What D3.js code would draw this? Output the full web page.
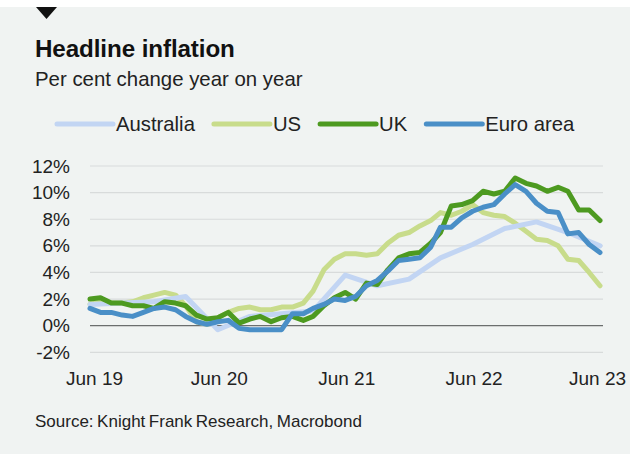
<!DOCTYPE html>
<html><head><meta charset="utf-8">
<script src="https://cdn.jsdelivr.net/npm/d3@7/dist/d3.min.js"></script>
<style>
html,body{margin:0;padding:0;background:#fff;}
svg{display:block;font-family:"Liberation Sans",Arial,sans-serif;}
</style></head>
<body>
<svg id="c" width="630" height="454"></svg>
<script>
// ---- data ----
const monthStart = "2019-06";
const ukValues = [2.0,2.1,1.7,1.7,1.5,1.5,1.3,1.8,1.7,1.5,0.8,0.5,0.6,1.0,0.2,0.5,0.7,0.3,0.6,0.7,0.4,0.7,1.5,2.1,2.5,2.0,3.2,3.1,4.2,5.1,5.4,5.5,6.2,7.0,9.0,9.1,9.4,10.1,9.9,10.1,11.1,10.7,10.5,10.1,10.4,10.1,8.7,8.7,7.9];
const usValues = [1.6,1.8,1.7,1.7,1.8,2.1,2.3,2.5,2.3,1.5,0.3,0.1,0.6,1.0,1.3,1.4,1.2,1.2,1.4,1.4,1.7,2.6,4.2,5.0,5.4,5.4,5.3,5.4,6.2,6.8,7.0,7.5,7.9,8.5,8.3,8.6,9.1,8.5,8.3,8.2,7.7,7.1,6.5,6.4,6.0,5.0,4.9,4.0,3.0];
const euroValues = [1.3,1.0,1.0,0.8,0.7,1.0,1.3,1.4,1.2,0.7,0.3,0.1,0.3,0.4,-0.2,-0.3,-0.3,-0.3,-0.3,0.9,0.9,1.3,1.6,2.0,1.9,2.2,3.0,3.4,4.1,4.9,5.0,5.1,5.9,7.4,7.4,8.1,8.6,8.9,9.1,9.9,10.6,10.1,9.2,8.6,8.5,6.9,7.0,6.1,5.5];
const ausQuarters = ["2019-06","2019-09","2019-12","2020-03","2020-06","2020-09","2020-12","2021-03","2021-06","2021-09","2021-12","2022-03","2022-06","2022-09","2022-12","2023-03","2023-06"];
const ausValues = [1.6,1.7,1.8,2.2,-0.3,0.7,0.9,1.1,3.8,3.0,3.5,5.1,6.1,7.3,7.8,7.0,6.0];
const yTicks = [-2,0,2,4,6,8,10,12];
const xTickDates = ["2019-06","2020-06","2021-06","2022-06","2023-06"];
const xTickLabels = ["Jun 19","Jun 20","Jun 21","Jun 22","Jun 23"];
const seriesNames = ["Australia","US","UK","Euro area"];
const seriesColors = ["#c2d5f3","#c8dc8b","#4d9a20","#4a8fc7"];

// ---- build ----
const parse = d3.timeParse("%Y-%m");
const t0 = parse(monthStart);
const monthly = vals => vals.map((v,i)=>({date:d3.timeMonth.offset(t0,i), v}));
const series = [
  {name:"US", color:seriesColors[1], data:monthly(usValues)},
  {name:"Australia", color:seriesColors[0], data:ausQuarters.map((d,i)=>({date:parse(d), v:ausValues[i]}))},
  {name:"UK", color:seriesColors[2], data:monthly(ukValues)},
  {name:"Euro area", color:seriesColors[3], data:monthly(euroValues)}
];

const svg = d3.select("#c");
svg.append("rect").attr("x",0).attr("y",7).attr("width",630).attr("height",447).attr("fill","#f0f3f2");
svg.append("path").attr("d","M36,7 L57,7 L46.5,19 Z").attr("fill","#111");

svg.append("text").attr("x",35).attr("y",57).attr("font-size",24.2).attr("font-weight","bold")
  .attr("fill","#111").attr("letter-spacing",-0.1).text("Headline inflation");
svg.append("text").attr("x",35).attr("y",86).attr("font-size",20.4).attr("fill","#222").text("Per cent change year on year");

// legend
const legendOrder = [0,1,2,3];
let lx = 57;
legendOrder.forEach(i=>{
  svg.append("line").attr("x1",lx).attr("x2",lx+56).attr("y1",124).attr("y2",124)
    .attr("stroke",seriesColors[i]).attr("stroke-width",5).attr("stroke-linecap","round");
  const t = svg.append("text").attr("x",lx+59).attr("y",131).attr("font-size",20.3).attr("fill","#222").text(seriesNames[i]);
  lx = lx + 59 + t.node().getComputedTextLength() + 19;
});

const x = d3.scaleTime().domain([parse("2019-06"),parse("2023-06")]).range([90,600]);
const y = d3.scaleLinear().domain([0,12]).range([325.7,166]);

// grid
const g = svg.append("g");
g.selectAll("line.grid").data(yTicks).join("line")
  .attr("x1",90).attr("x2",603).attr("y1",d=>y(d)).attr("y2",d=>y(d))
  .attr("stroke",d=>d===0?"#6b6e6e":"#d8dbdb").attr("stroke-width",1.2);

const yAxis = d3.axisLeft(y).tickValues(yTicks).tickFormat(d=>d+"%").tickSize(0).tickPadding(0);
const ya = svg.append("g").attr("transform","translate(70,0)").call(yAxis);
ya.select(".domain").remove();
ya.selectAll("text").attr("font-size",19).attr("fill","#222").attr("font-family","Liberation Sans, Arial, sans-serif");

const xAxis = d3.axisBottom(x).tickValues(xTickDates.map(parse)).tickFormat((d,i)=>xTickLabels[i]).tickSize(0).tickPadding(0);
const xa = svg.append("g").attr("transform","translate(0,371)").call(xAxis);
xa.select(".domain").remove();
xa.selectAll("text").attr("font-size",19).attr("fill","#222").attr("font-family","Liberation Sans, Arial, sans-serif")
  .attr("dx",(d,i)=> i===0?4: (i===xTickLabels.length-1?-3:1));

const line = d3.line().x(d=>x(d.date)).y(d=>y(d.v));
svg.append("g").selectAll("path.s").data(series).join("path")
  .attr("d",d=>line(d.data)).attr("fill","none").attr("stroke",d=>d.color)
  .attr("stroke-width",5).attr("stroke-linejoin","round").attr("stroke-linecap","round");

svg.append("text").attr("x",35).attr("y",427).attr("font-size",17).attr("fill","#222").attr("word-spacing",-1.2)
  .text("Source: Knight Frank Research, Macrobond");
</script>
</body></html>
